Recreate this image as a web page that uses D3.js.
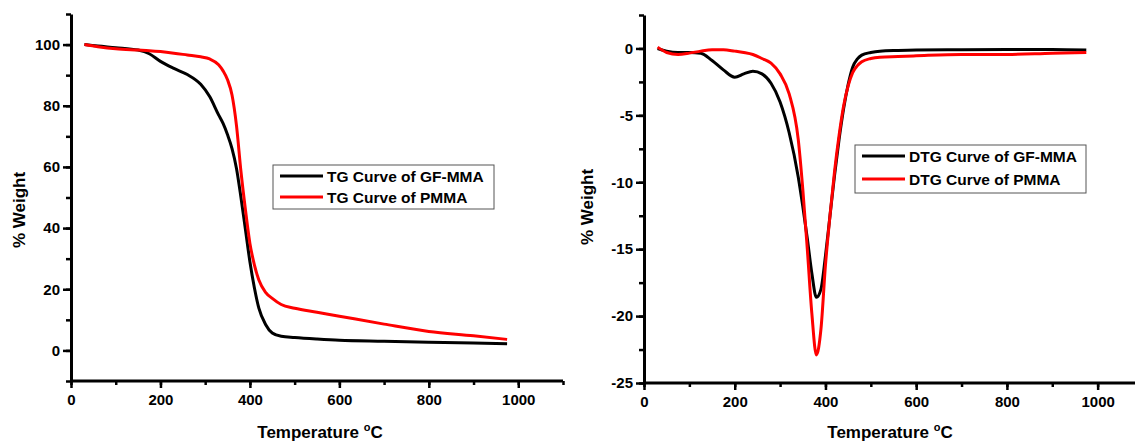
<!DOCTYPE html>
<html>
<head>
<meta charset="utf-8">
<script src="https://cdn.jsdelivr.net/npm/d3@7"></script>
<style>
 body { margin: 0; background: #fff; }
 text { font-family: Arial, "Liberation Sans", sans-serif; font-weight: bold; fill: #000; }
</style>
</head>
<body>
<svg width="1135" height="443"></svg>
<script>
// Data.

var tempTG = [30, 60, 100, 150, 175, 200, 230, 260, 290, 310, 330, 340, 350, 360, 370, 380, 390, 400, 410, 420, 435, 450, 470, 500, 550, 600, 700, 800, 900, 975];
var tgGFMMA = [100, 99.5, 99, 98.2, 97, 94.5, 92.2, 90.2, 87, 83, 77, 74.2, 70.5, 66, 59.5, 50, 39.5, 29, 20.5, 13.8, 8.5, 5.7, 4.6, 4.2, 3.7, 3.3, 3.0, 2.7, 2.4, 2.2];
var tgPMMA = [100, 99.3, 98.6, 98.2, 98, 97.7, 97.2, 96.6, 96, 95.3, 93.4, 91.4, 88.5, 83.5, 73.5, 58.5, 46, 35, 28, 23, 19, 17, 15, 13.8, 12.5, 11.2, 8.6, 6.2, 4.8, 3.6];

var tempDTG = [30, 50, 75, 100, 125, 150, 175, 200, 220, 240, 260, 280, 300, 320, 340, 350, 360, 370, 380, 390, 400, 410, 420, 430, 440, 450, 460, 470, 480, 500, 520, 560, 600, 700, 800, 900, 975];
var dtgGFMMA = [0, -0.2, -0.3, -0.3, -0.35, -0.9, -1.6, -2.15, -1.9, -1.7, -1.9, -2.6, -4, -6.3, -9.6, -11.8, -14.2, -16.8, -18.6, -18, -15.5, -12.5, -9.5, -6.8, -4.5, -2.7, -1.4, -0.8, -0.5, -0.3, -0.2, -0.15, -0.12, -0.1, -0.08, -0.08, -0.12];
var dtgPMMA = [0.1, -0.3, -0.45, -0.35, -0.2, -0.1, -0.1, -0.2, -0.3, -0.45, -0.75, -1.1, -1.9, -3.4, -6.8, -10.5, -15, -19.8, -22.9, -21, -16.2, -12.5, -9.2, -6.5, -4.3, -2.8, -1.8, -1.3, -1, -0.75, -0.65, -0.6, -0.55, -0.45, -0.45, -0.35, -0.3];

var xTicks = [0, 200, 400, 600, 800, 1000];
var tgTicks = [0, 20, 40, 60, 80, 100];
var dtgTicks = [-25, -20, -15, -10, -5, 0];

var tgLegend = ['TG Curve of GF-MMA', 'TG Curve of PMMA'];
var dtgLegend = ['DTG Curve of GF-MMA', 'DTG Curve of PMMA'];
var colors = ['#000000', '#ff0000'];

var svg = d3.select('svg');
var plain = function(d) { return String(d); };

function panel(opt) {
 var x = d3.scaleLinear().domain([0, 1100]).range(opt.xRange);
 var y = d3.scaleLinear().domain(opt.yDomain).range(opt.yRange);
 var g = svg.append('g');

// Minor ticks first, then labelled major ticks.

 g.append('g')
 .attr('transform', 'translate(0,' + opt.yRange[0] + ')')
 .call(d3.axisBottom(x).tickValues(d3.range(0, 1101, 100)).tickSize(4).tickFormat(''))
 .call(function(a) { a.select('.domain').remove(); a.selectAll('line').attr('stroke-width', 2.5); });

 g.append('g')
 .attr('transform', 'translate(0,' + opt.yRange[0] + ')')
 .call(d3.axisBottom(x).tickValues(xTicks).tickFormat(plain).tickSize(7).tickPadding(6).tickSizeOuter(0))
 .call(function(a) {
  a.select('.domain').attr('stroke-width', 3).attr('d', 'M' + opt.xRange[0] + ',0H' + opt.xRange[1]);
  a.selectAll('line').attr('stroke-width', 2.5);
  a.selectAll('text').attr('font-size', 15).attr('dy', '0.75em');
 });

 g.append('g')
 .attr('transform', 'translate(' + opt.xRange[0] + ',0)')
 .call(d3.axisLeft(y).tickValues(opt.minor).tickSize(5).tickFormat(''))
 .call(function(a) { a.select('.domain').remove(); a.selectAll('line').attr('stroke-width', 2.5); });

 g.append('g')
 .attr('transform', 'translate(' + opt.xRange[0] + ',0)')
 .call(d3.axisLeft(y).tickValues(opt.major).tickFormat(plain).tickSize(8).tickPadding(3).tickSizeOuter(0))
 .call(function(a) {
  a.select('.domain').attr('stroke-width', 3);
  a.selectAll('line').attr('stroke-width', 2.5);
  a.selectAll('text').attr('font-size', 15);
 });

// Curves.

 var line = d3.line()
 .x(function(d) { return x(d[0]); })
 .y(function(d) { return y(d[1]); })
 .curve(d3.curveMonotoneX);

 opt.series.forEach(function(s, i) {
  g.append('path')
  .datum(d3.zip(opt.temps, s))
  .attr('fill', 'none')
  .attr('stroke', colors[i])
  .attr('stroke-width', 3)
  .attr('stroke-linejoin', 'round')
  .attr('d', line);
 });

// Axis titles.

 var t = g.append('text')
 .attr('x', opt.titleX)
 .attr('y', 438)
 .attr('text-anchor', 'middle')
 .attr('font-size', 17);
 t.append('tspan').text('Temperature ');
 t.append('tspan').attr('font-size', 11).attr('dy', -7).text('o');
 t.append('tspan').attr('dy', 7).text('C');

 g.append('text')
 .attr('transform', 'translate(' + opt.ylabX + ',' + opt.ylabY + ') rotate(-90)')
 .attr('text-anchor', 'middle')
 .attr('font-size', 17)
 .text('% Weight');

// Legend box.

 var lg = g.append('g').attr('transform', 'translate(' + opt.legend[0] + ',' + opt.legend[1] + ')');
 lg.append('rect')
 .attr('width', opt.legend[2])
 .attr('height', opt.legend[3])
 .attr('fill', '#fff')
 .attr('stroke', '#555')
 .attr('stroke-width', 1);
 var step = (opt.legend[3] - 2) / 2;
 opt.names.forEach(function(n, i) {
  var cy = 11 + i * step;
  lg.append('line')
  .attr('x1', 7).attr('x2', 50)
  .attr('y1', cy).attr('y2', cy)
  .attr('stroke', colors[i])
  .attr('stroke-width', 3);
  lg.append('text')
  .attr('x', 54)
  .attr('y', cy + 5.5)
  .attr('font-size', 15.5)
  .text(n);
 });
}

panel({
 xRange: [71, 563], yDomain: [-10, 110], yRange: [381, 14],
 major: tgTicks, minor: d3.range(-10, 111, 10),
 temps: tempTG, series: [tgGFMMA, tgPMMA],
 titleX: 320, ylabX: 25, ylabY: 210,
 legend: [273, 165, 221, 44], names: tgLegend
});

panel({
 xRange: [644, 1143], yDomain: [-25, 2.5], yRange: [383, 15],
 major: dtgTicks, minor: d3.range(-25, 2.6, 2.5),
 temps: tempDTG, series: [dtgGFMMA, dtgPMMA],
 titleX: 890, ylabX: 593, ylabY: 207,
 legend: [855, 145, 231, 48], names: dtgLegend
});
</script>
</body>
</html>
